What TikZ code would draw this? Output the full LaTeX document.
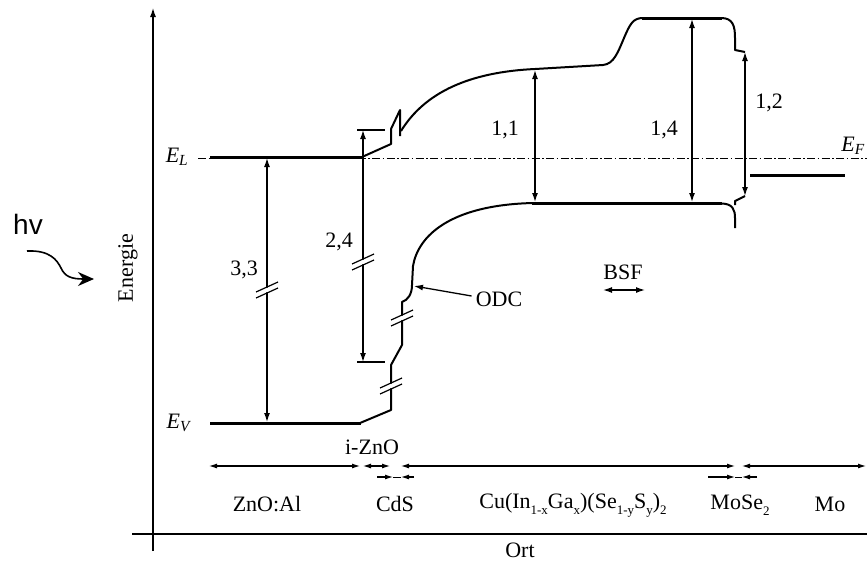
\documentclass[tikz,border=0pt]{standalone}
\usepackage{fontspec}
\setmainfont{Liberation Serif}
\newfontfamily\hvfont{Liberation Sans}
\usetikzlibrary{arrows.meta}
\newcommand\lowsub[1]{\raisebox{-0.28em}{\fontsize{13}{13}\selectfont #1}}
\begin{document}
\begin{tikzpicture}[x=1pt,y=-1pt,
  band/.style={line width=3pt},
  curve/.style={line width=2pt, line join=round},
  dim/.style={line width=1.3pt},
  dimarr/.style={dim, {Latex[length=9pt,width=6pt]}-{Latex[length=9pt,width=6pt]}},
  onearr/.style={dim, -{Latex[length=9pt,width=6pt]}},
  lbl/.style={inner sep=0pt, font=\fontsize{22}{26}\selectfont},
  brk/.style={line width=1.2pt},
  fermi/.style={line width=0.9pt, dash pattern=on 8pt off 2.5pt on 1.5pt off 2.5pt}
]
\clip (0,0) rectangle (867,563);
\useasboundingbox (0,0) rectangle (867,563);

% axes
\coordinate (ybot) at (153,551);
\coordinate (ytop) at (153,7);
\coordinate (xl) at (132,534);
\coordinate (xr) at (870,534);
\draw[line width=2pt, -{Latex[length=10pt,width=6pt]}] (ybot) -- (ytop);
\draw[line width=2pt] (xl) -- (xr);
\node[lbl, rotate=90] (energie) at (128,268) {Energie};
\node[lbl] (ort) at (520,550) {Ort};

% hv
\node[inner sep=0pt, font=\hvfont\fontsize{28}{30}\selectfont] (hv) at (28,224) {hv};
\coordinate (w0) at (27,251);
\coordinate (w1) at (94,279);
\draw[line width=1.6pt, -{Stealth[length=16pt,width=14pt]}] (w0) .. controls (50,250) and (57,260) .. (61,268) .. controls (65,277) and (72,279) .. (w1);

% Fermi level
\coordinate (f0) at (198,158.5);
\coordinate (f1) at (870,158.5);
\draw[fermi] (f0) -- (f1);
\node[lbl, anchor=east] (EF) at (865,146) {\textit{E}\textsubscript{\textit{F}}};
\node[lbl] (EL) at (177,157) {\textit{E}\textsubscript{\textit{L}}};
\node[lbl] (EV) at (179,423) {\textit{E}\textsubscript{\textit{V}}};

% conduction band
\draw[band] (210,157) -- (363,157);
\draw[curve] (362,157) -- (391,144) -- (391,129) -- (400,110) -- (400,136);
\draw[curve] (401,131) .. controls (425,92) and (470,72) .. (535,69)
   -- (603,65) .. controls (614,64) and (618,52) .. (624,38)
   .. controls (630,24) and (633,18) .. (643,18);
\draw[band] (642,18) -- (722,18);
\draw[curve] (721,18) .. controls (733,18) and (735,26) .. (735,38) -- (735,50) -- (745,52);

% valence band
\draw[band] (210,423) -- (361,423);
\draw[curve] (360,423) -- (391,410) -- (391,365) -- (402,345) -- (402,302)
   .. controls (408,300) and (412,294) .. (412,285) -- (413,266)
   .. controls (418,236) and (450,205) .. (533,203);
\draw[band] (532,203.5) -- (722,203.5);
\draw[curve] (721,203.5) .. controls (733,203.5) and (735,210) .. (735,218) -- (735,228);
\draw[curve] (735,205) -- (735,201) -- (745,196);

% Mo
\draw[band] (750,175) -- (845,175);

% dimension arrows
\coordinate (a33t) at (267,158);
\coordinate (a33b) at (267,422);
\draw[dimarr] (a33t) -- (a33b);
\node[lbl] (l33) at (244,270) {3,3};

\coordinate (a24t) at (363,130);
\coordinate (a24b) at (363,362);
\draw[dim] (357,130) -- (385,130);
\draw[dim] (357,362) -- (385,362);
\draw[dimarr] (a24t) -- (a24b);
\node[lbl] (l24) at (339,242) {2,4};

\coordinate (a11t) at (535,70);
\coordinate (a11b) at (535,202);
\draw[dimarr] (a11t) -- (a11b);
\node[lbl] (l11) at (505,130) {1,1};

\coordinate (a14t) at (692,19);
\coordinate (a14b) at (692,202);
\draw[dimarr] (a14t) -- (a14b);
\node[lbl] (l14) at (664,130) {1,4};

\coordinate (a12t) at (745,52);
\coordinate (a12b) at (745,196);
\draw[dimarr] (a12t) -- (a12b);
\node[lbl] (l12) at (769,103) {1,2};

% break marks
\foreach \bx/\by in {267/290, 363/262, 391/386, 402/318}{
  \draw[brk, white, line width=4pt] (\bx-3,\by+1) -- (\bx+3,\by-1);
  \draw[brk] (\bx-11,\by+2) -- (\bx+11,\by-8);
  \draw[brk] (\bx-11,\by+8) -- (\bx+11,\by-2);
}

% ODC and BSF
\node[lbl] (odc) at (499,299) {ODC};
\coordinate (odcp) at (414,286);
\draw[onearr] (odc.west) ++(-4,-3) -- (odcp);
\node[lbl] (bsf) at (623,272) {BSF};
\coordinate (bsf0) at (603,290);
\coordinate (bsf1) at (645,290);
\draw[dimarr] (bsf0) -- (bsf1);

% layer arrows
\tikzset{sarr/.style={line width=1.1pt, {Latex[length=8pt,width=5pt]}-{Latex[length=8pt,width=5pt]}},
         sone/.style={line width=1.1pt, -{Latex[length=8pt,width=5pt]}}}
\draw[sarr] (209,466) -- (360,466);
\draw[sarr] (363,466) -- (390,466);
\draw[sarr] (401,466) -- (735,466);
\draw[sarr] (742,466) -- (866,466);
\draw[sone] (377,477) -- (393,477);
\draw[line width=0.8pt] (393,477) -- (401,477);
\draw[sone] (414,477) -- (401,477);
\draw[sone] (708,477) -- (735,477);
\draw[line width=0.8pt] (735,477) -- (742,477);
\draw[sone] (757,477) -- (742,477);

\node[lbl] (izno) at (372,447) {i-ZnO};
\node[lbl] (znoal) at (267,504) {ZnO:Al};
\node[lbl] (cds) at (395,504) {CdS};
\node[lbl] (cigs) at (573,505) {Cu(In\lowsub{1-x}Ga\lowsub{x})(Se\lowsub{1-y}S\lowsub{y})\lowsub{2}};
\node[lbl] (mose) at (740,505) {MoSe\lowsub{2}};
\node[lbl] (mo) at (830,504) {Mo};
\end{tikzpicture}
\end{document}
